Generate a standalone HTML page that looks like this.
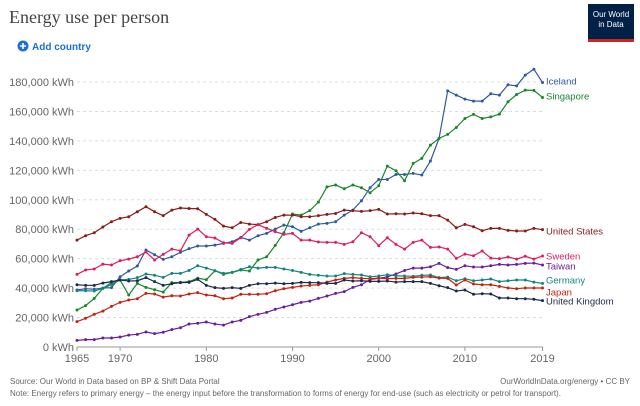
<!DOCTYPE html>
<html><head><meta charset="utf-8"><style>
body{margin:0;background:#fff;width:640px;height:401px;overflow:hidden;font-family:"Liberation Sans",sans-serif}
</style></head><body>
<svg width="640" height="401">
<text x="9" y="23" font-family="Liberation Serif,serif" font-size="18" fill="#444">Energy use per person</text>
<g>
<circle cx="23" cy="46" r="5.5" fill="#1d6fd1"/><path d="M20 46h6M23 43v6" stroke="#fff" stroke-width="1.6"/>
<text x="32" y="50" font-size="10" fill="#1d6fd1" font-weight="bold">Add country</text></g>
<g>
<rect x="588" y="4" width="46" height="38" fill="#002147"/><rect x="588" y="39" width="46" height="3" fill="#ce261e"/>
<text x="611" y="17" font-size="8" fill="#fff" text-anchor="middle">Our World</text>
<text x="611" y="27" font-size="8" fill="#fff" text-anchor="middle">in Data</text></g>
<g id="axes"></g><g id="series"></g>
<text x="10" y="384" font-size="8" fill="#666">Source: Our World in Data based on BP &amp; Shift Data Portal</text>
<text x="630" y="384" font-size="8" fill="#666" text-anchor="end">OurWorldInData.org/energy • CC BY</text>
<text x="10" y="396" font-size="8" fill="#666">Note: Energy refers to primary energy – the energy input before the transformation to forms of energy for end-use (such as electricity or petrol for transport).</text>
</svg>
<script>
const years=[];for(let y=1965;y<=2019;y++)years.push(y);
const yTicks=[0,20000,40000,60000,80000,100000,120000,140000,160000,180000];
const xTicks=[1965,1970,1980,1990,2000,2010,2019];
const countries=["Iceland","Singapore","United States","Sweden","Taiwan","Germany","Japan","United Kingdom"];
const colors=["#2e5aa0","#18872d","#8a1b1b","#dc1f5e","#6a1f9a","#13857e","#c5230f","#1b2a4a"];
const labelY=[81,96,231,256,266,280,292,301];
const iceland=[38.7,39.6,39.2,40.1,40.3,47.7,51.6,55.0,65.9,62.7,59.5,61.3,64.3,66.8,68.6,68.6,69.2,70.4,71.5,74.5,72.6,75.6,77.2,80.1,82.8,81.7,78.5,81.0,83.5,84.0,85.1,89.6,93.0,99.3,108.2,113.8,113.8,117.2,117.2,117.9,116.8,126.3,141.7,174.0,171.1,168.4,167.0,167.0,172.0,171.1,178.1,177.4,184.7,188.7,179.7];
const singapore=[25.1,28.1,33.0,39.8,42.5,45.5,35.3,43.2,40.5,38.9,37.3,43.7,43.9,44.4,46.8,45.7,51.8,49.3,50.7,52.3,51.6,59.1,61.3,69.0,77.6,90.3,89.6,92.6,98.4,108.8,110.0,107.5,110.0,108.2,104.8,109.5,122.9,119.7,112.9,124.7,128.1,137.1,141.7,144.4,149.1,155.2,158.0,155.2,156.3,158.2,166.6,171.5,174.5,174.3,169.5];
const us=[72.6,75.6,77.6,81.5,85.1,87.4,88.5,91.9,95.3,91.9,89.2,93.0,94.4,94.1,93.9,90.1,86.7,82.1,81.0,84.6,83.5,83.1,85.1,88.0,89.6,89.6,88.5,88.5,89.2,90.1,90.7,93.0,92.6,92.1,92.6,93.5,90.3,90.5,90.3,91.0,90.5,89.2,89.2,86.2,81.0,83.3,81.7,79.0,80.6,80.6,79.2,78.8,78.8,80.6,79.7];
const sweden=[49.3,52.3,53.0,56.3,55.7,58.6,59.7,61.3,64.5,59.1,62.9,66.5,65.4,76.0,80.1,74.9,74.0,70.8,70.4,74.2,79.9,83.1,80.6,78.3,76.5,77.2,72.6,72.6,71.3,71.1,71.1,69.7,71.5,77.6,74.9,68.8,74.2,69.7,66.5,71.1,72.6,67.7,67.9,66.5,60.2,63.1,62.0,65.2,60.4,60.0,61.1,59.7,61.6,59.7,61.8];
const taiwan=[4.5,5.0,5.0,6.1,6.1,6.8,8.1,8.6,10.2,9.1,10.0,11.8,13.1,15.6,16.1,17.0,15.6,14.9,17.0,18.1,20.6,22.2,23.5,25.6,27.2,28.7,30.3,31.2,33.0,34.6,36.4,37.6,40.5,42.3,45.9,46.6,47.7,49.6,52.0,53.6,53.6,54.5,56.8,53.9,52.7,55.2,54.3,54.3,55.2,56.1,55.7,56.1,56.8,57.0,55.7];
const germany=[38.2,38.2,38.0,39.8,43.9,45.5,45.9,47.1,49.6,48.7,47.3,50.0,50.0,52.0,55.2,53.6,51.8,50.0,50.7,52.7,54.5,53.6,54.1,54.1,53.0,52.0,50.7,49.3,48.7,48.2,48.2,49.8,49.3,48.9,47.7,48.2,49.1,48.4,48.2,48.0,48.7,48.9,47.1,47.5,45.0,46.4,45.0,45.5,46.2,44.4,45.0,45.5,45.5,44.1,43.2];
const japan=[17.2,19.5,22.2,24.4,27.6,30.3,31.9,32.8,36.4,36.0,33.9,34.8,34.6,36.0,36.9,35.3,34.8,32.8,33.3,35.8,35.8,35.8,36.2,38.2,39.6,40.5,41.4,41.9,42.3,44.1,45.5,46.6,47.1,46.6,46.4,46.8,46.4,46.6,46.6,47.3,47.5,47.7,46.8,46.6,42.1,45.5,42.8,42.3,42.3,41.2,40.1,39.6,40.1,40.1,40.1];
const uk=[42.3,41.9,41.9,43.4,44.4,45.5,44.8,45.0,47.1,44.4,41.9,43.0,43.7,43.9,45.9,41.9,40.3,39.8,40.3,39.8,41.9,43.0,43.0,43.4,43.0,43.2,43.9,43.7,43.7,43.2,43.2,45.5,44.8,45.0,44.6,44.6,44.8,44.1,44.4,44.4,44.4,43.2,41.6,40.3,38.0,38.7,35.8,36.2,36.0,33.3,33.3,32.8,32.8,32.4,31.5];
const seriesData=[iceland,singapore,us,sweden,taiwan,germany,japan,uk];
const NS="http://www.w3.org/2000/svg";
const X=y=>77+(y-1965)*(542.5-77)/54;
const Y=v=>347-v*(347-82)/180000;
function mk(t,a,p){const e=document.createElementNS(NS,t);for(const k in a)e.setAttribute(k,a[k]);p.appendChild(e);return e;}
const ax=document.getElementById('axes'),sg=document.getElementById('series');
yTicks.forEach(t=>{
 const l=mk('line',{x1:77,x2:543,y1:Y(t),y2:Y(t),stroke:t?'#ddd':'#999','stroke-dasharray':t?'3,3':'none'},ax);
 
 
 const tx=mk('text',{x:74,y:Y(t)+4,'font-size':11,fill:'#666','text-anchor':'end'},ax);
 tx.textContent=t.toLocaleString('en-US')+' kWh';
 
 
});
xTicks.forEach(t=>{
 mk('line',{x1:X(t),x2:X(t),y1:347,y2:351,stroke:'#999'},ax);
 const tx=mk('text',{x:X(t),y:362,'font-size':11,fill:'#666','text-anchor':'middle'},ax);
 tx.textContent=t;
 
 
});
seriesData.forEach((d,i)=>{
 const g=mk('g',{},sg);
 
 
 mk('polyline',{points:d.map((v,j)=>X(years[j])+','+Y(v*1000)).join(' '),fill:'none',stroke:colors[i],'stroke-width':1.2},g);
 d.forEach((v,j)=>{const c=mk('circle',{cx:X(years[j]),cy:Y(v*1000),r:1.5,fill:colors[i]},g);
  
  });
 const lb=mk('text',{x:546,y:labelY[i]+3.5,'font-size':9.5,fill:colors[i]},g);
 lb.textContent=countries[i];
 
 
});
</script>
</body></html>
